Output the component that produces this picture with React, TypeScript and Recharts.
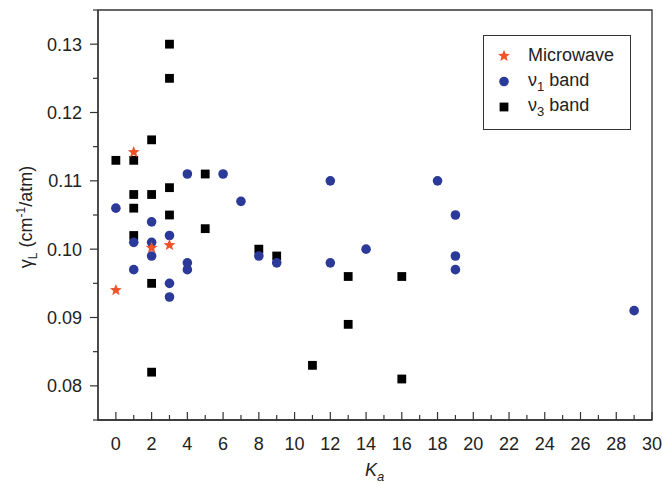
import { ReferenceArea, Scatter, ScatterChart, XAxis, YAxis } from 'recharts'

// K_a values and linewidths
const microwaveK = [0, 1, 2, 3]
const microwaveGamma = [0.094, 0.1142, 0.1002, 0.1006]

const nu1K = [0, 1, 1, 2, 2, 2, 3, 3, 3, 4, 4, 4, 6, 7, 8, 9, 12, 12, 14, 18, 19, 19, 19, 29]
const nu1Gamma = [
  0.106, 0.101, 0.097, 0.104, 0.101, 0.099, 0.102, 0.095, 0.093, 0.111, 0.098, 0.097, 0.111,
  0.107, 0.099, 0.098, 0.11, 0.098, 0.1, 0.11, 0.105, 0.099, 0.097, 0.091,
]

const nu3K = [0, 1, 1, 1, 1, 2, 2, 2, 2, 3, 3, 3, 3, 5, 5, 8, 9, 11, 13, 13, 16, 16]
const nu3Gamma = [
  0.113, 0.113, 0.108, 0.106, 0.102, 0.116, 0.108, 0.095, 0.082, 0.13, 0.125, 0.109, 0.105,
  0.111, 0.103, 0.1, 0.099, 0.083, 0.096, 0.089, 0.096, 0.081,
]

const xTicks = Array.from({ length: 31 }, (_, i) => i)
const yTicks = [0.075, 0.08, 0.085, 0.09, 0.095, 0.1, 0.105, 0.11, 0.115, 0.12, 0.125, 0.13, 0.135]

const STAR = '#f0522a'
const BLUE = '#2b3a98'
const AXIS = '#333'
const FONT = '"Liberation Sans", Arial, sans-serif'

const toPoints = (xs: number[], ys: number[]) => xs.map((k, i) => ({ k, g: ys[i] }))

const microwave = toPoints(microwaveK, microwaveGamma)
const nu1 = toPoints(nu1K, nu1Gamma)
const nu3 = toPoints(nu3K, nu3Gamma)

function starPath(cx: number, cy: number, ro: number, ri: number) {
  let d = ''
  for (let i = 0; i < 10; i++) {
    const r = i % 2 === 0 ? ro : ri
    const a = -Math.PI / 2 + (i * Math.PI) / 5
    d += (i === 0 ? 'M' : 'L') + (cx + r * Math.cos(a)).toFixed(2) + ',' + (cy + r * Math.sin(a)).toFixed(2)
  }
  return d + 'Z'
}

const StarShape = (p: any) => <path d={starPath(p.cx, p.cy, 6.2, 2.7)} fill={STAR} />
const CircleShape = (p: any) => <circle cx={p.cx} cy={p.cy} r={4.8} fill={BLUE} />
const SquareShape = (p: any) => <rect x={p.cx - 4.4} y={p.cy - 4.4} width={8.8} height={8.8} fill="#000" />

const XTick = (p: any) => {
  const v = p.payload.value
  const major = v % 2 === 0
  return (
    <g>
      <line x1={p.x} x2={p.x} y1={p.y} y2={p.y - (major ? 8 : 5)} stroke={AXIS} strokeWidth={1.2} />
      {major && (
        <text x={p.x} y={p.y + 30} textAnchor="middle" fontSize={18} fontFamily={FONT} fill="#222">
          {v}
        </text>
      )}
    </g>
  )
}

const YTick = (p: any) => {
  const v = p.payload.value
  const major = Math.round(v * 1000) % 10 === 0
  const ax = p.x
  return (
    <g>
      <line x1={ax} x2={ax - (major ? 8 : 5)} y1={p.y} y2={p.y} stroke={AXIS} strokeWidth={1.2} />
      {major && (
        <text x={ax - 16} y={p.y} dy="0.36em" textAnchor="end" fontSize={18} fontFamily={FONT} fill="#222">
          {v.toFixed(2)}
        </text>
      )}
    </g>
  )
}

const LegendBox = () => (
  <div
    style={{
      position: 'absolute',
      left: 483,
      top: 35,
      width: 148,
      height: 95,
      border: `1px solid ${AXIS}`,
      background: '#fff',
      fontFamily: FONT,
      fontSize: 18,
      color: '#222',
      boxSizing: 'border-box',
    }}
  >
    <svg width={40} height={93} style={{ position: 'absolute', left: 0, top: 0 }}>
      <path d={starPath(20, 20, 6.2, 2.7)} fill={STAR} />
      <circle cx={20} cy={45.5} r={4.8} fill={BLUE} />
      <rect x={15.6} y={66.6} width={8.8} height={8.8} fill="#000" />
    </svg>
    <div style={{ position: 'absolute', left: 44, top: 9, lineHeight: '20px' }}>Microwave</div>
    <div style={{ position: 'absolute', left: 44, top: 34, lineHeight: '20px' }}>
      ν<sub style={{ fontSize: 13 }}>1</sub> band
    </div>
    <div style={{ position: 'absolute', left: 44, top: 59, lineHeight: '20px' }}>
      ν<sub style={{ fontSize: 13 }}>3</sub> band
    </div>
  </div>
)

export default function App() {
  return (
    <div style={{ position: 'absolute', left: 0, top: 0, width: 662, height: 484, background: '#fff' }}>
      <ScatterChart width={662} height={484} margin={{ top: 10, right: 10, bottom: 0, left: 0 }}>
        <XAxis
          type="number"
          dataKey="k"
          domain={[-1, 30]}
          ticks={xTicks}
          interval={0}
          height={64}
          tickSize={0}
          tickMargin={0}
          tickLine={false}
          tick={<XTick />}
          axisLine={{ stroke: AXIS, strokeWidth: 1.3 }}
          allowDataOverflow
        />
        <YAxis
          type="number"
          dataKey="g"
          domain={[0.075, 0.135]}
          ticks={yTicks}
          interval={0}
          width={98}
          tickSize={0}
          tickMargin={0}
          tickLine={false}
          tick={<YTick />}
          axisLine={{ stroke: AXIS, strokeWidth: 1.3 }}
          allowDataOverflow
        />
        <ReferenceArea x1={-1} x2={30} y1={0.075} y2={0.135} fill="none" stroke={AXIS} strokeWidth={1.3} />
        <Scatter name="ν3 band" data={nu3} shape={SquareShape} isAnimationActive={false} />
        <Scatter name="ν1 band" data={nu1} shape={CircleShape} isAnimationActive={false} />
        <Scatter name="Microwave" data={microwave} shape={StarShape} isAnimationActive={false} />
        <text x={365} y={476} fontSize={18} fontFamily={FONT} fontStyle="italic" fill="#222">
          K
          <tspan dy={5} fontSize={13}>a</tspan>
        </text>
        <text
          transform="translate(32,217) rotate(-90)"
          textAnchor="middle"
          fontSize={18}
          fontFamily={FONT}
          fill="#222"
        >
          γ<tspan dy={5} fontSize={12}>L</tspan>
          <tspan dy={-5}> (cm</tspan>
          <tspan dy={-7} fontSize={12}>-1</tspan>
          <tspan dy={7}>/atm)</tspan>
        </text>
      </ScatterChart>
      <LegendBox />
    </div>
  )
}
